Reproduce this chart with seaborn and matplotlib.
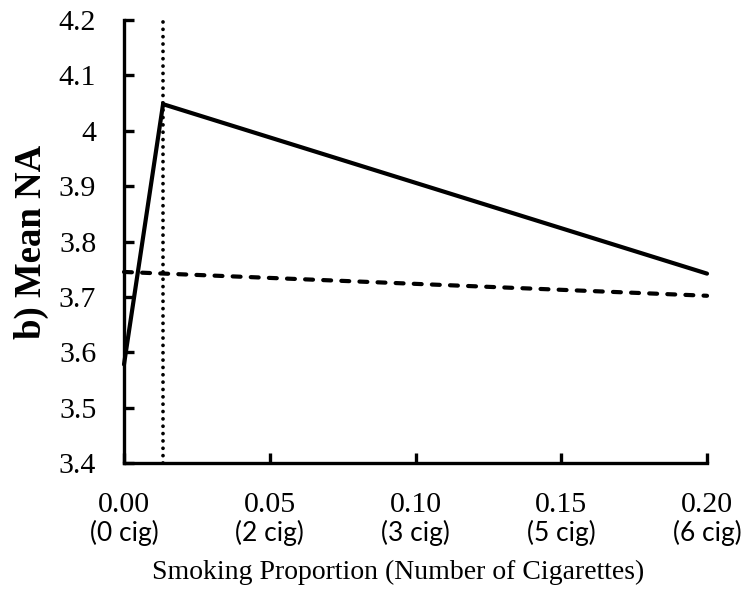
import matplotlib
matplotlib.use("Agg")
import matplotlib.pyplot as plt
import seaborn as sns
import pandas as pd

# Data
solid_x = [0.0, 0.0134, 0.20]
solid_y = [3.578, 4.048, 3.742]
dashed_x = [0.0, 0.20]
dashed_y = [3.745, 3.702]
vline_x = 0.0134
xticks = [0.00, 0.05, 0.10, 0.15, 0.20]
xtick_num = ["0.00", "0.05", "0.10", "0.15", "0.20"]
xtick_cig = ["(0 cig)", "(2 cig)", "(3 cig)", "(5 cig)", "(6 cig)"]
yticks = [3.4, 3.5, 3.6, 3.7, 3.8, 3.9, 4.0, 4.1, 4.2]
ytick_labels = ["3.4", "3.5", "3.6", "3.7", "3.8", "3.9", "4", "4.1", "4.2"]

sns.set_theme(style="white")
plt.rcParams['font.family'] = ['Liberation Serif', 'DejaVu Serif']

fig = plt.figure(figsize=(7.53, 5.91), dpi=100)
ax = fig.add_axes([124/753, 1-463/591, (707-124)/753, (463-20)/591])

df_s = pd.DataFrame({"x": solid_x, "y": solid_y})
df_d = pd.DataFrame({"x": dashed_x, "y": dashed_y})
sns.lineplot(data=df_s, x="x", y="y", ax=ax, color="black", lw=3.0, sort=False,
             solid_joinstyle="miter", clip_on=False)
sns.lineplot(data=df_d, x="x", y="y", ax=ax, color="black", lw=3.0,
             dashes=False, linestyle=(0, (1.9, 2.45)), dash_capstyle="round", clip_on=False)
ax.axvline(vline_x, color="black", lw=2.7, linestyle=(0, (0.01, 1.95)), dash_capstyle="round")

ax.set_xlim(0, 0.20)
ax.set_ylim(3.4, 4.2)
ax.set_xticks(xticks)
ax.set_xticklabels(xtick_num)
ax.set_yticks(yticks)
ax.set_yticklabels(ytick_labels)

for s in ["top", "right"]:
    ax.spines[s].set_visible(False)
for s in ["left", "bottom"]:
    ax.spines[s].set_linewidth(2.4)
    ax.spines[s].set_color("black")

ax.tick_params(axis="both", direction="in", length=7, width=2.4, color="black",
               labelsize=21.5, labelcolor="black", bottom=True, left=True)
ax.tick_params(axis="y", pad=20)
ax.tick_params(axis="x", pad=21)

trans = ax.get_xaxis_transform()
for xv, lab in zip(xticks, xtick_cig):
    ax.text(xv, -(533-463)/443, lab, transform=trans, ha="center", va="center",
            fontsize=19, family=["Lato", "DejaVu Sans"], color="black")

ax.set_xlabel("Smoking Proportion (Number of Cigarettes)", fontsize=20, color="black")
ax.xaxis.set_label_coords((398-124)/583, -(560-463)/443)
ax.set_ylabel("b) Mean NA", fontsize=26.5, fontweight="bold", color="black")
ax.yaxis.set_label_coords(-(124-49)/583, 0.5)

fig.savefig("out.png", dpi=100)
